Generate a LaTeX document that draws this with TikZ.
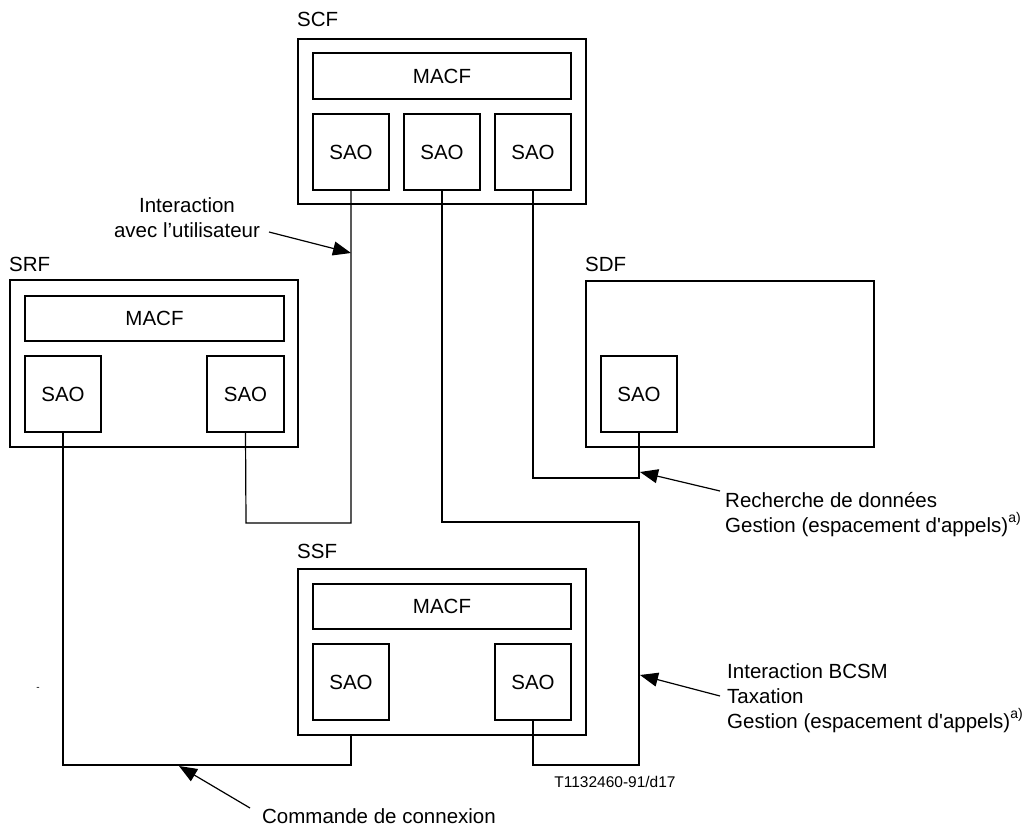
\documentclass[tikz,border=0pt]{standalone}
\usepackage{fontspec}
\setmainfont{Liberation Sans}
\usetikzlibrary{arrows.meta}
\newcommand{\supa}{\raisebox{10pt}{\fontsize{14}{14}\selectfont a)}}
\newcommand{\apos}{\textquotesingle}
\begin{document}
\begin{tikzpicture}[x=1pt,y=-1pt,
  box/.style={draw,line width=1.2pt,inner sep=0pt,fill=none},
  txt/.style={inner sep=0pt,font=\fontsize{20.5}{25}\selectfont},
  small/.style={inner sep=0pt,font=\fontsize{15.5}{18}\selectfont},
  wire/.style={line width=1.2pt},
  pointer/.style={line width=1.2pt,-{Triangle[length=18pt,width=14pt]}}]
\useasboundingbox (0,0) rectangle (1026,827);

% ---- SCF ----
\node[box,minimum width=288,minimum height=165] (scf) at (442,121.5) {};
\node[txt,anchor=base west] (scfL) at (297,26.5) {SCF};
\node[box,minimum width=258,minimum height=46,txt] (scfM) at (442,76) {MACF};
\node[box,minimum width=76,minimum height=76,txt] (scfA) at (351,152) {SAO};
\node[box,minimum width=76,minimum height=76,txt] (scfB) at (442,152) {SAO};
\node[box,minimum width=76,minimum height=76,txt] (scfC) at (533,152) {SAO};

% ---- SRF ----
\node[box,minimum width=288,minimum height=167] (srf) at (154,363.5) {};
\node[txt,anchor=base west] (srfL) at (9,271) {SRF};
\node[box,minimum width=259,minimum height=45,txt] (srfM) at (154.5,318.5) {MACF};
\node[box,minimum width=76,minimum height=76,txt] (srfA) at (63,394) {SAO};
\node[box,minimum width=77,minimum height=76,txt] (srfB) at (245.5,394) {SAO};

% ---- SDF ----
\node[box,minimum width=288,minimum height=166] (sdf) at (730,364) {};
\node[txt,anchor=base west] (sdfL) at (585,271) {SDF};
\node[box,minimum width=76,minimum height=76,txt] (sdfA) at (639,394) {SAO};

% ---- SSF ----
\node[box,minimum width=288,minimum height=166] (ssf) at (442,652) {};
\node[txt,anchor=base west] (ssfL) at (297,558) {SSF};
\node[box,minimum width=258,minimum height=45,txt] (ssfM) at (442,606.5) {MACF};
\node[box,minimum width=76,minimum height=76,txt] (ssfA) at (351,682) {SAO};
\node[box,minimum width=76,minimum height=76,txt] (ssfB) at (533,682) {SAO};

% ---- bend points of the connections ----
\coordinate (k1) at (351,523);
\coordinate (k2) at (246,523);
\coordinate (k3) at (442,522);
\coordinate (k4) at (639,522);
\coordinate (k5) at (639,765);
\coordinate (k6) at (533,765);
\coordinate (k7) at (533,478);
\coordinate (k8) at (639,478);
\coordinate (k9) at (63,765);
\coordinate (k10) at (351,765);

% ---- connections between the SAOs ----
\draw[wire] (scfA.south) -- (k1) -- (k2) -- (srfB.south);
\draw[wire] (scfB.south) -- (k3) -- (k4) -- (k5) -- (k6) -- (ssfB.south);
\draw[wire] (scfC.south) -- (k7) -- (k8) -- (sdfA.south);
\draw[wire] (srfA.south) -- (k9) -- (k10) -- (k10 |- ssf.south);

% ---- annotations ----
\node[txt,align=center] (userT) at (187,218) {Interaction\\avec l’utilisateur};
\coordinate (userS) at (269,232);
\coordinate (userE) at (351,253);
\draw[pointer] (userS) -- (userE);

\node[txt,align=left,anchor=west] (dataT) at (725,515)
  {Recherche de données\\Gestion (espacement d\apos appels)\supa};
\coordinate (dataS) at (720,491);
\coordinate (dataE) at (640,472);
\draw[pointer] (dataS) -- (dataE);

\node[txt,align=left,anchor=west] (bcsmT) at (727,698)
  {Interaction BCSM\\Taxation\\Gestion (espacement d\apos appels)\supa};
\coordinate (bcsmS) at (720,696);
\coordinate (bcsmE) at (640,675);
\draw[pointer] (bcsmS) -- (bcsmE);

\node[txt] (connT) at (379,816) {Commande de connexion};
\coordinate (connS) at (250,808);
\coordinate (connE) at (179,766);
\draw[pointer] (connS) -- (connE);

\node[small] (ref) at (615,782) {T1132460-91/d17};
\node[inner sep=0pt,font=\fontsize{10}{10}\selectfont] (dash) at (38,689) {-};
\end{tikzpicture}
\end{document}
